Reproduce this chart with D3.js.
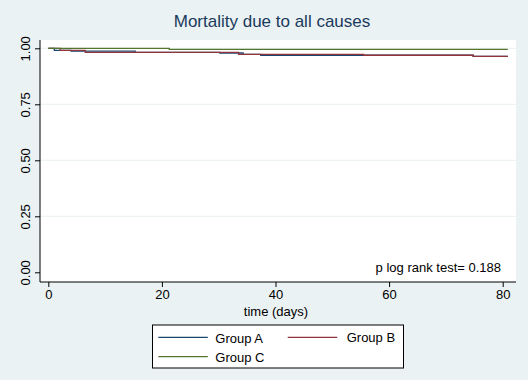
<!DOCTYPE html>
<html><head><meta charset="utf-8">
<script src="https://cdn.jsdelivr.net/npm/d3@7"></script>
<style>body{margin:0;background:#eaf2f3;} svg{display:block;font-family:"Liberation Sans",Arial,sans-serif;}</style>
</head><body>
<svg id="c" width="528" height="380"></svg>
<script>
// Kaplan-Meier step data (time in days, survival)
const groupA_time = [0, 1.06, 4.0, 15.3, 30.2, 34.3, 37.4, 74.8, 80.9];
const groupA_surv = [1.0, 0.991, 0.987, 0.982, 0.979, 0.973, 0.969, 0.964, 0.964];
const groupB_time = [0, 2.1, 6.5, 33.5, 55.5, 74.8, 80.9];
const groupB_surv = [1.0, 0.991, 0.982, 0.973, 0.969, 0.964, 0.964];
const groupC_time = [0, 21.3, 80.9];
const groupC_surv = [1.0, 0.9955, 0.9955];
const seriesNames = ["Group A", "Group B", "Group C"];
const seriesColors = ["#1a476f", "#90353b", "#55752f"];
const xTicks = [0, 20, 40, 60, 80];
const yTicks = [0, 0.25, 0.5, 0.75, 1];
const titleText = "Mortality due to all causes";
const xLabel = "time (days)";
const annotation = "p log rank test= 0.188";

const svg = d3.select("#c");
svg.append("rect").attr("width",528).attr("height",380).attr("fill","#eaf2f3");

const x = d3.scaleLinear().domain([0,80]).range([48.3,502.7]);
const y = d3.scaleLinear().domain([0,1]).range([272.3,48.3]);
const plot = {l:40, t:40, r:516, b:282};

svg.append("rect").attr("x",plot.l).attr("y",plot.t).attr("width",plot.r-plot.l).attr("height",plot.b-plot.t).attr("fill","#ffffff");

// gridlines
svg.append("g").selectAll("line").data(yTicks.filter(d=>d>0)).join("line")
  .attr("x1",plot.l).attr("x2",plot.r)
  .attr("y1",d=>y(d)).attr("y2",d=>y(d))
  .attr("stroke","#eaf2f3").attr("stroke-width",1);

// axes
const yAxis = d3.axisLeft(y).tickValues(yTicks).tickFormat(d3.format(".2f")).tickSize(5).tickSizeOuter(0);
const gy = svg.append("g").attr("transform",`translate(${plot.l},0)`).call(yAxis);
gy.select(".domain").remove();
gy.append("line").attr("x1",0).attr("x2",0).attr("y1",plot.t).attr("y2",plot.b).attr("stroke","#000");
gy.selectAll(".tick line").attr("stroke","#000");
gy.selectAll(".tick text").attr("fill","#000").style("font-size","13px")
  .attr("x",null).attr("dy",null)
  .attr("text-anchor","middle")
  .attr("transform","translate(-10,0) rotate(-90)")
  .attr("y",0);

const xAxis = d3.axisBottom(x).tickValues(xTicks).tickSize(5).tickSizeOuter(0);
const gx = svg.append("g").attr("transform",`translate(0,${plot.b})`).call(xAxis);
gx.select(".domain").remove();
gx.append("line").attr("x1",plot.l).attr("x2",plot.r).attr("y1",0).attr("y2",0).attr("stroke","#000");
gx.selectAll(".tick line").attr("stroke","#000");
gx.selectAll(".tick text").attr("fill","#000").style("font-size","13px").attr("y",8);

// series
const series = [
  {t:groupA_time, s:groupA_surv},
  {t:groupB_time, s:groupB_surv},
  {t:groupC_time, s:groupC_surv}
];
const line = d3.line().x(d=>x(d[0])).y(d=>y(d[1])).curve(d3.curveStepAfter);
series.forEach((sr,i)=>{
  const pts = sr.t.map((t,j)=>[t,sr.s[j]]);
  svg.append("path").datum(pts).attr("d",line).attr("fill","none")
    .attr("stroke",seriesColors[i]).attr("stroke-width",1.3);
});

// title
svg.append("text").attr("x",272).attr("y",26.5).attr("text-anchor","middle")
  .attr("fill","#1a3a5c").style("font-size","17px").text(titleText);

// annotation
svg.append("text").attr("x",501).attr("y",271.5).attr("text-anchor","end")
  .attr("fill","#000").style("font-size","13px").text(annotation);

// x label
svg.append("text").attr("x",276).attr("y",316).attr("text-anchor","middle")
  .attr("fill","#000").style("font-size","13px").text(xLabel);

// legend
const lg = svg.append("g");
lg.append("rect").attr("x",152.5).attr("y",325).attr("width",251).attr("height",43)
  .attr("fill","#fff").attr("stroke","#000").attr("stroke-width",1);
const legendPos = [
  {lx:158.3, ly:337.3, tx:215.3, ty:343},
  {lx:287.7, ly:337.3, tx:346.7, ty:341.5},
  {lx:158.3, ly:356.7, tx:215.3, ty:362}
];
seriesNames.forEach((n,i)=>{
  const p = legendPos[i];
  lg.append("line").attr("x1",p.lx).attr("x2",p.lx+49.5).attr("y1",p.ly).attr("y2",p.ly)
    .attr("stroke",seriesColors[i]).attr("stroke-width",1.3);
  lg.append("text").attr("x",p.tx).attr("y",p.ty).attr("fill","#000").style("font-size","13px").text(n);
});
</script>
</body></html>
